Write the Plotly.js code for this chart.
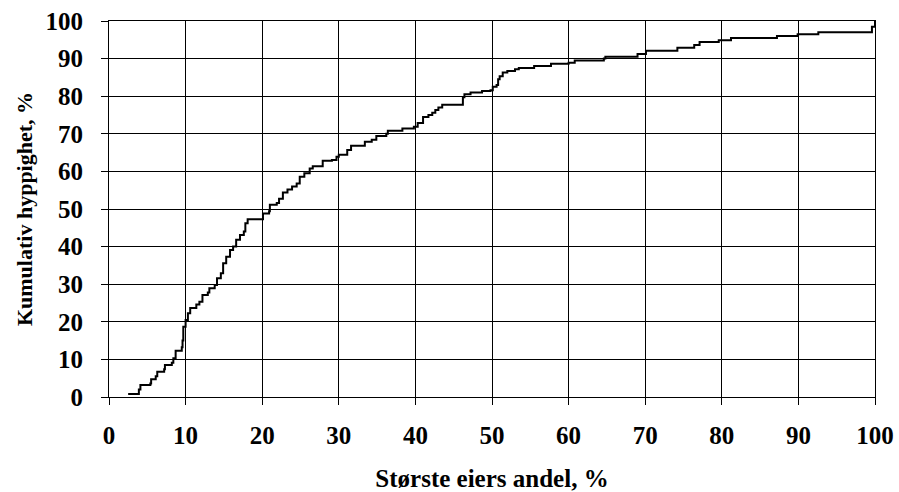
<!DOCTYPE html>
<html>
<head>
<meta charset="utf-8">
<script src="https://cdn.plot.ly/plotly-3.0.1.min.js"></script>
<style>html,body{margin:0;padding:0;background:#fff;}#chart{width:899px;height:492px;}</style>
</head>
<body>
<div id="chart"></div>
<script>
// Largest owner's share (%) at each step, and cumulative frequency (%) after the step
const shareX = [2.5,3.9,4.1,5.4,5.5,6.1,6.3,7.2,7.3,8.2,8.4,8.7,9.5,9.6,9.7,10.0,10.3,10.6,11.4,11.8,12.2,12.9,13.1,13.8,14.1,14.6,14.9,15.3,15.8,16.2,16.6,17.1,17.6,17.8,18.1,20.1,20.9,21.0,21.9,22.2,22.7,23.3,23.9,24.5,24.9,25.5,26.2,26.6,27.9,29.1,29.7,30.0,31.1,31.6,33.4,34.3,34.9,36.2,36.4,38.3,39.8,40.3,41.0,41.7,42.2,42.6,43.0,43.5,46.2,46.4,47.2,48.7,49.8,50.1,50.6,50.8,51.0,51.4,52.0,53.0,53.5,55.5,57.7,60.0,60.8,64.6,64.8,69.0,70.1,74.2,76.4,77.1,79.6,81.2,87.2,89.9,92.6,99.6,100];
const cumFreq = [0.8,2.0,3.2,3.6,4.7,5.5,6.7,7.4,8.5,9.1,10.3,12.3,13.2,15.0,18.7,20.5,22.3,23.7,24.6,25.3,27.1,27.8,28.9,29.8,31.6,32.9,35.6,37.3,39.1,40.0,41.8,43.1,44.0,46.2,47.3,48.8,49.4,51.1,51.6,52.7,54.4,55.2,56.0,56.8,58.6,59.5,60.8,61.4,62.8,63.0,63.9,64.4,65.7,66.8,67.9,68.4,69.4,70.0,70.8,71.4,71.9,72.9,74.5,75.0,75.6,76.3,77.0,77.7,79.7,80.5,81.0,81.4,81.6,82.5,83.0,84.5,85.3,86.3,86.7,87.2,87.5,88.0,88.6,88.9,89.5,90.0,90.5,91.2,92.1,92.9,93.6,94.4,94.9,95.5,96.0,96.5,97.0,98.5,100];
const xTicks = [0,10,20,30,40,50,60,70,80,90,100];
const yTicks = [0,10,20,30,40,50,60,70,80,90,100];
const xTitle = 'Største eiers andel, %';
const yTitle = 'Kumulativ hyppighet, %';

const fam = '"Liberation Serif", "Times New Roman", serif';

const trace = {
  x: shareX, y: cumFreq, type: 'scatter', mode: 'lines',
  line: {color: '#000', width: 2, shape: 'hv'},
  hoverinfo: 'skip'
};

const axisCommon = {
  showgrid: true, gridcolor: '#000', gridwidth: 1,
  showline: true, linecolor: '#000', linewidth: 1, mirror: true,
  ticks: 'outside', ticklen: 7, tickcolor: '#000', tickwidth: 1,
  zeroline: false, automargin: false,
  tickfont: {family: fam, size: 25, color: '#000', weight: 'bold'}
};

const layout = {
  width: 899, height: 492,
  margin: {l: 109, r: 24, t: 21, b: 95},
  paper_bgcolor: '#fff', plot_bgcolor: '#fff',
  showlegend: false,
  font: {family: fam, size: 22, color: '#000'},
  xaxis: Object.assign({}, axisCommon, {
    range: [0, 100], tickvals: xTicks, ticktext: xTicks.map(String),
    ticklabelstandoff: 9,
    title: {text: xTitle, font: {family: fam, size: 25, color: '#000', weight: 'bold'}, standoff: 22}
  }),
  yaxis: Object.assign({}, axisCommon, {
    range: [0, 100], tickvals: yTicks, ticktext: yTicks.map(String),
    ticklabelstandoff: 13,
    title: {text: yTitle, font: {family: fam, size: 22, color: '#000', weight: 'bold'}, standoff: 6}
  })
};

Plotly.newPlot('chart', [trace], layout, {displayModeBar: false, staticPlot: true});
</script>
</body>
</html>
